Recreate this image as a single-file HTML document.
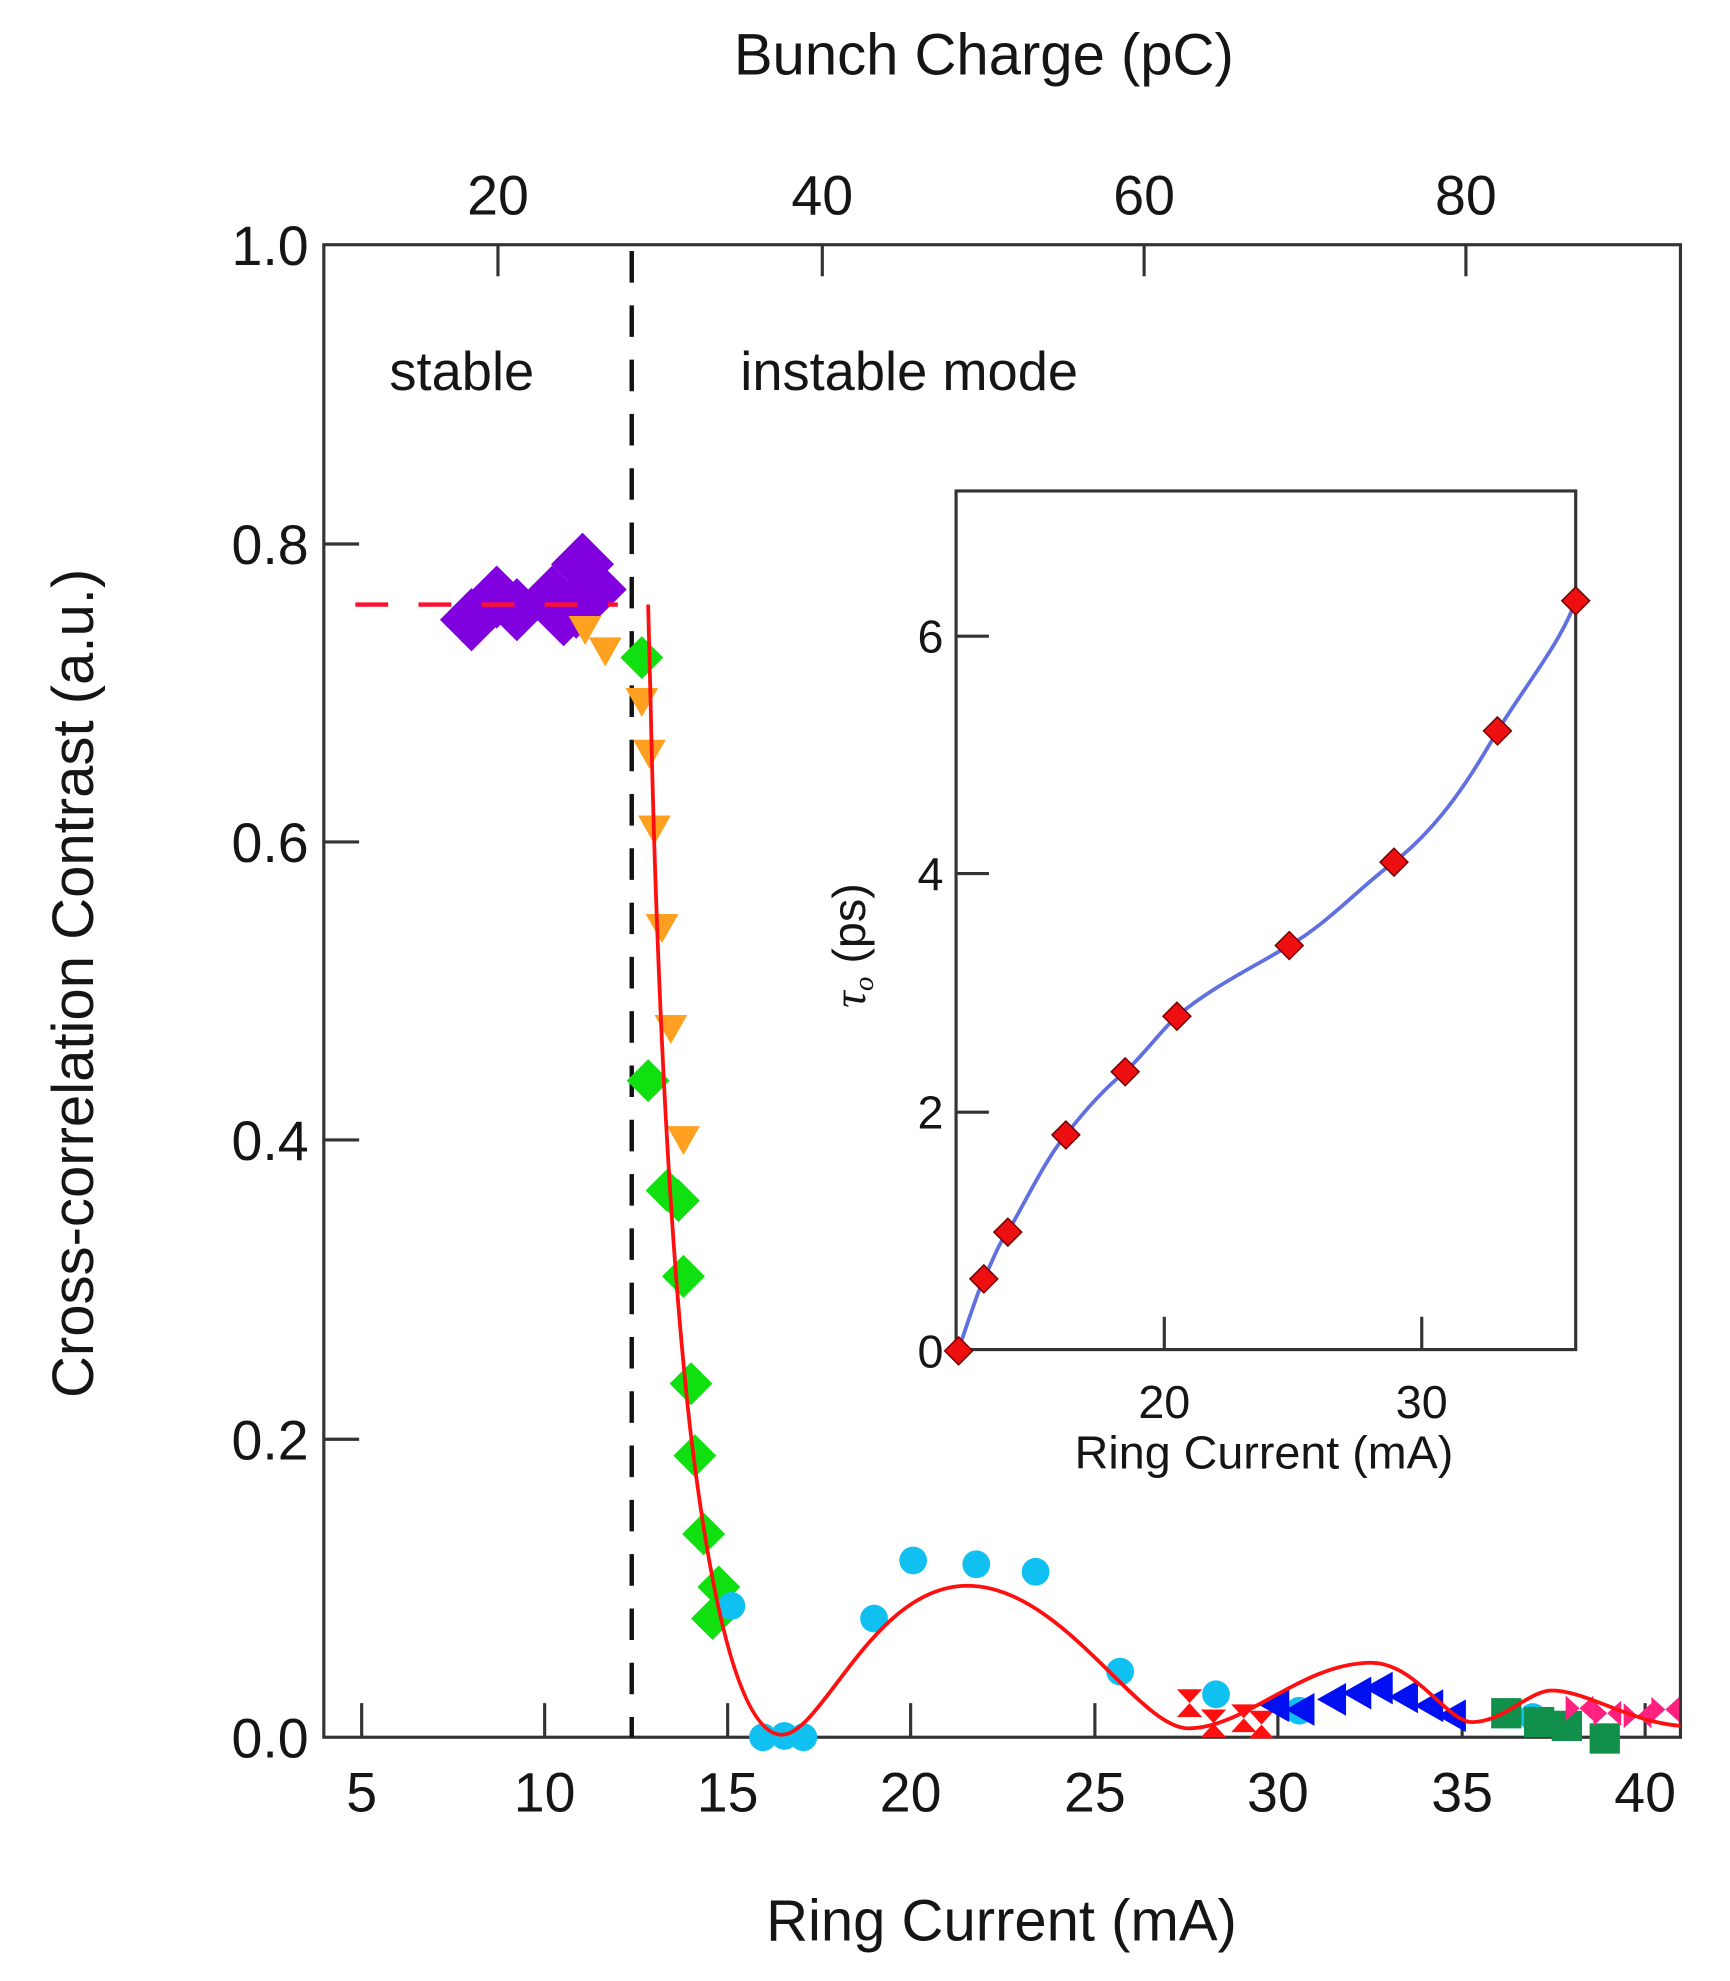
<!DOCTYPE html>
<html><head><meta charset="utf-8"><style>
html,body{margin:0;padding:0;background:#fff;}
svg{display:block;}
text{font-family:"Liberation Sans",sans-serif;fill:#151515;}
</style></head><body>
<svg width="1730" height="1981" viewBox="0 0 1730 1981" xmlns="http://www.w3.org/2000/svg">
<defs>
<path id="dia" d="M0,-17 L17,0 L0,17 L-17,0Z"/>
<path id="pdia" d="M0,-25 L25,0 L0,25 L-25,0Z"/>
<path id="tri" d="M-13,-10 L13,-10 L0,13Z"/>
<path id="ltri" d="M-13,0 L10,-13 L10,13Z"/>
<path id="hg" d="M-10,-11 L10,-11 L0,0 L10,11 L-10,11 L0,0Z"/>
<path id="bt" d="M-11,-10 L0,0 L-11,10Z M11,-10 L0,0 L11,10Z"/>
<path id="idia" d="M0,-11 L11,0 L0,11 L-11,0Z"/>
</defs>
<g transform="matrix(1.262,0,0,1.2627,2,-1.5)">
<text x="778" y="60" font-size="46" text-anchor="middle">Bunch Charge (pC)</text>
<text x="792" y="1538" font-size="46" text-anchor="middle">Ring Current (mA)</text>
<text transform="translate(72,780) rotate(-90)" font-size="46" text-anchor="middle">Cross-correlation Contrast (a.u.)</text>
<g font-size="44" text-anchor="middle">
<text x="393" y="171">20</text><text x="650" y="171">40</text><text x="905" y="171">60</text><text x="1160" y="171">80</text>
</g>
<g font-size="44" text-anchor="end">
<text x="243" y="211">1.0</text><text x="243" y="448">0.8</text><text x="243" y="684">0.6</text><text x="243" y="920">0.4</text><text x="243" y="1157">0.2</text><text x="243" y="1393">0.0</text>
</g>
<g font-size="44" text-anchor="middle">
<text x="285" y="1436">5</text><text x="430" y="1436">10</text><text x="575" y="1436">15</text><text x="720" y="1436">20</text><text x="866" y="1436">25</text><text x="1011" y="1436">30</text><text x="1157" y="1436">35</text><text x="1302" y="1436">40</text>
</g>
<rect x="255" y="195" width="1075" height="1182" fill="none" stroke="#333" stroke-width="2.5"/>
<g stroke="#333" stroke-width="2.5">
<line x1="393" y1="195" x2="393" y2="220"/><line x1="650" y1="195" x2="650" y2="220"/><line x1="905" y1="195" x2="905" y2="220"/><line x1="1160" y1="195" x2="1160" y2="220"/>
<line x1="255" y1="432" x2="283" y2="432"/><line x1="255" y1="668" x2="283" y2="668"/><line x1="255" y1="904" x2="283" y2="904"/><line x1="255" y1="1141" x2="283" y2="1141"/>
<line x1="285" y1="1377" x2="285" y2="1350"/><line x1="430" y1="1377" x2="430" y2="1350"/><line x1="575" y1="1377" x2="575" y2="1350"/><line x1="720" y1="1377" x2="720" y2="1350"/><line x1="866" y1="1377" x2="866" y2="1350"/><line x1="1011" y1="1377" x2="1011" y2="1350"/><line x1="1157" y1="1377" x2="1157" y2="1350"/><line x1="1302" y1="1377" x2="1302" y2="1350"/>
</g>
<text x="307" y="310" font-size="43">stable</text>
<text x="585" y="310" font-size="43">instable mode</text>
<line x1="499" y1="200" x2="499" y2="1377" stroke="#111" stroke-width="3.5" stroke-dasharray="25,18"/>
<g fill="#8000e0">
<use href="#pdia" x="372" y="492"/><use href="#pdia" x="392" y="474"/><use href="#pdia" x="408" y="484"/><use href="#pdia" x="436" y="474"/><use href="#pdia" x="455" y="482"/><use href="#pdia" x="460" y="448"/><use href="#pdia" x="470" y="468"/><use href="#pdia" x="445" y="488"/>
</g>
<line x1="280" y1="480" x2="488" y2="480" stroke="#ff1030" stroke-width="3.5" stroke-dasharray="26,24"/>
<g fill="#ffa020">
<use href="#tri" x="462" y="499"/><use href="#tri" x="478" y="516"/><use href="#tri" x="507" y="556"/><use href="#tri" x="513" y="597"/><use href="#tri" x="517" y="657"/><use href="#tri" x="523" y="735"/><use href="#tri" x="530" y="815"/><use href="#tri" x="540" y="903"/>
</g>
<g fill="#10e010">
<use href="#dia" x="507" y="522"/><use href="#dia" x="512" y="857"/><use href="#dia" x="527" y="944"/><use href="#dia" x="536" y="952"/><use href="#dia" x="540" y="1012"/><use href="#dia" x="546" y="1097"/><use href="#dia" x="549" y="1154"/><use href="#dia" x="556" y="1216"/><use href="#dia" x="568" y="1258"/><use href="#dia" x="563" y="1283"/>
</g>
<g fill="#10c0f0">
<circle cx="578" cy="1273" r="11"/><circle cx="603" cy="1377" r="11"/><circle cx="620" cy="1376" r="11"/><circle cx="635" cy="1377" r="11"/><circle cx="691" cy="1283" r="11"/><circle cx="722" cy="1237" r="11"/><circle cx="772" cy="1240" r="11"/><circle cx="819" cy="1246" r="11"/><circle cx="886" cy="1325" r="11"/><circle cx="962" cy="1343" r="11"/><circle cx="1028" cy="1356" r="11"/><circle cx="1213" cy="1361" r="11"/>
</g>
<g fill="#ff1010">
<use href="#hg" x="941" y="1350"/><use href="#hg" x="960" y="1366"/><use href="#hg" x="984" y="1362"/><use href="#hg" x="998" y="1367"/>
</g>
<g fill="#0010f0">
<use href="#ltri" x="1010" y="1352"/><use href="#ltri" x="1030" y="1355"/><use href="#ltri" x="1055" y="1347"/><use href="#ltri" x="1075" y="1342"/><use href="#ltri" x="1092" y="1338"/><use href="#ltri" x="1112" y="1345"/><use href="#ltri" x="1132" y="1352"/><use href="#ltri" x="1150" y="1360"/>
</g>
<g fill="#10904a">
<rect x="1180" y="1346" width="24" height="24"/><rect x="1206" y="1353" width="24" height="24"/><rect x="1228" y="1356" width="24" height="24"/><rect x="1258" y="1366" width="24" height="24"/>
</g>
<g fill="#ff2080">
<use href="#bt" x="1250" y="1354"/><use href="#bt" x="1272" y="1358"/><use href="#bt" x="1296" y="1360"/><use href="#bt" x="1318" y="1355"/>
</g>
<path d="M512,480 L514,560 C517,700 525,950 545,1130 C565,1300 590,1375 618,1375 C650,1375 690,1257 765,1257 C840,1257 900,1370 940,1370 C985,1370 1030,1318 1085,1318 C1120,1318 1145,1365 1165,1365 C1190,1365 1210,1340 1228,1340 C1255,1340 1290,1365 1330,1368" fill="none" stroke="#ff1010" stroke-width="3"/>
<rect x="756" y="390" width="491" height="680" fill="none" stroke="#333" stroke-width="2.5"/>
<g stroke="#333" stroke-width="2.5">
<line x1="756" y1="505" x2="782" y2="505"/><line x1="756" y1="693" x2="782" y2="693"/><line x1="756" y1="882" x2="782" y2="882"/>
<line x1="921" y1="1070" x2="921" y2="1044"/><line x1="1125" y1="1070" x2="1125" y2="1044"/>
</g>
<g font-size="37" text-anchor="end">
<text x="746" y="518">6</text><text x="746" y="706">4</text><text x="746" y="895">2</text><text x="746" y="1084">0</text>
</g>
<g font-size="37" text-anchor="middle">
<text x="921" y="1124">20</text><text x="1125" y="1124">30</text>
<text x="1000" y="1164">Ring Current (mA)</text>
</g>
<text transform="translate(684,750) rotate(-90)" font-size="37" text-anchor="middle"><tspan font-family="Liberation Serif" font-style="italic">τ</tspan><tspan font-size="23" dy="6" font-family="Liberation Serif" font-style="italic">o</tspan><tspan dy="-6">  (ps)</tspan></text>
<path d="M758,1070 C768,1040 775,1020 778,1014 C785,1000 790,985 797,977 C815,945 828,918 843,900 C860,878 875,862 890,850 C905,836 918,818 931,806 C960,782 990,768 1020,750 C1050,733 1078,702 1103,684 C1140,655 1165,615 1185,580 C1210,540 1235,510 1247,477" fill="none" stroke="#6070e0" stroke-width="3"/>
<g fill="#ee1010" stroke="#700" stroke-width="1.2">
<use href="#idia" x="758" y="1071"/><use href="#idia" x="778" y="1014"/><use href="#idia" x="797" y="977"/><use href="#idia" x="843" y="900"/><use href="#idia" x="890" y="850"/><use href="#idia" x="931" y="806"/><use href="#idia" x="1020" y="750"/><use href="#idia" x="1103" y="684"/><use href="#idia" x="1185" y="580"/><use href="#idia" x="1247" y="477"/>
</g>
</g>
</svg>
</body></html>
